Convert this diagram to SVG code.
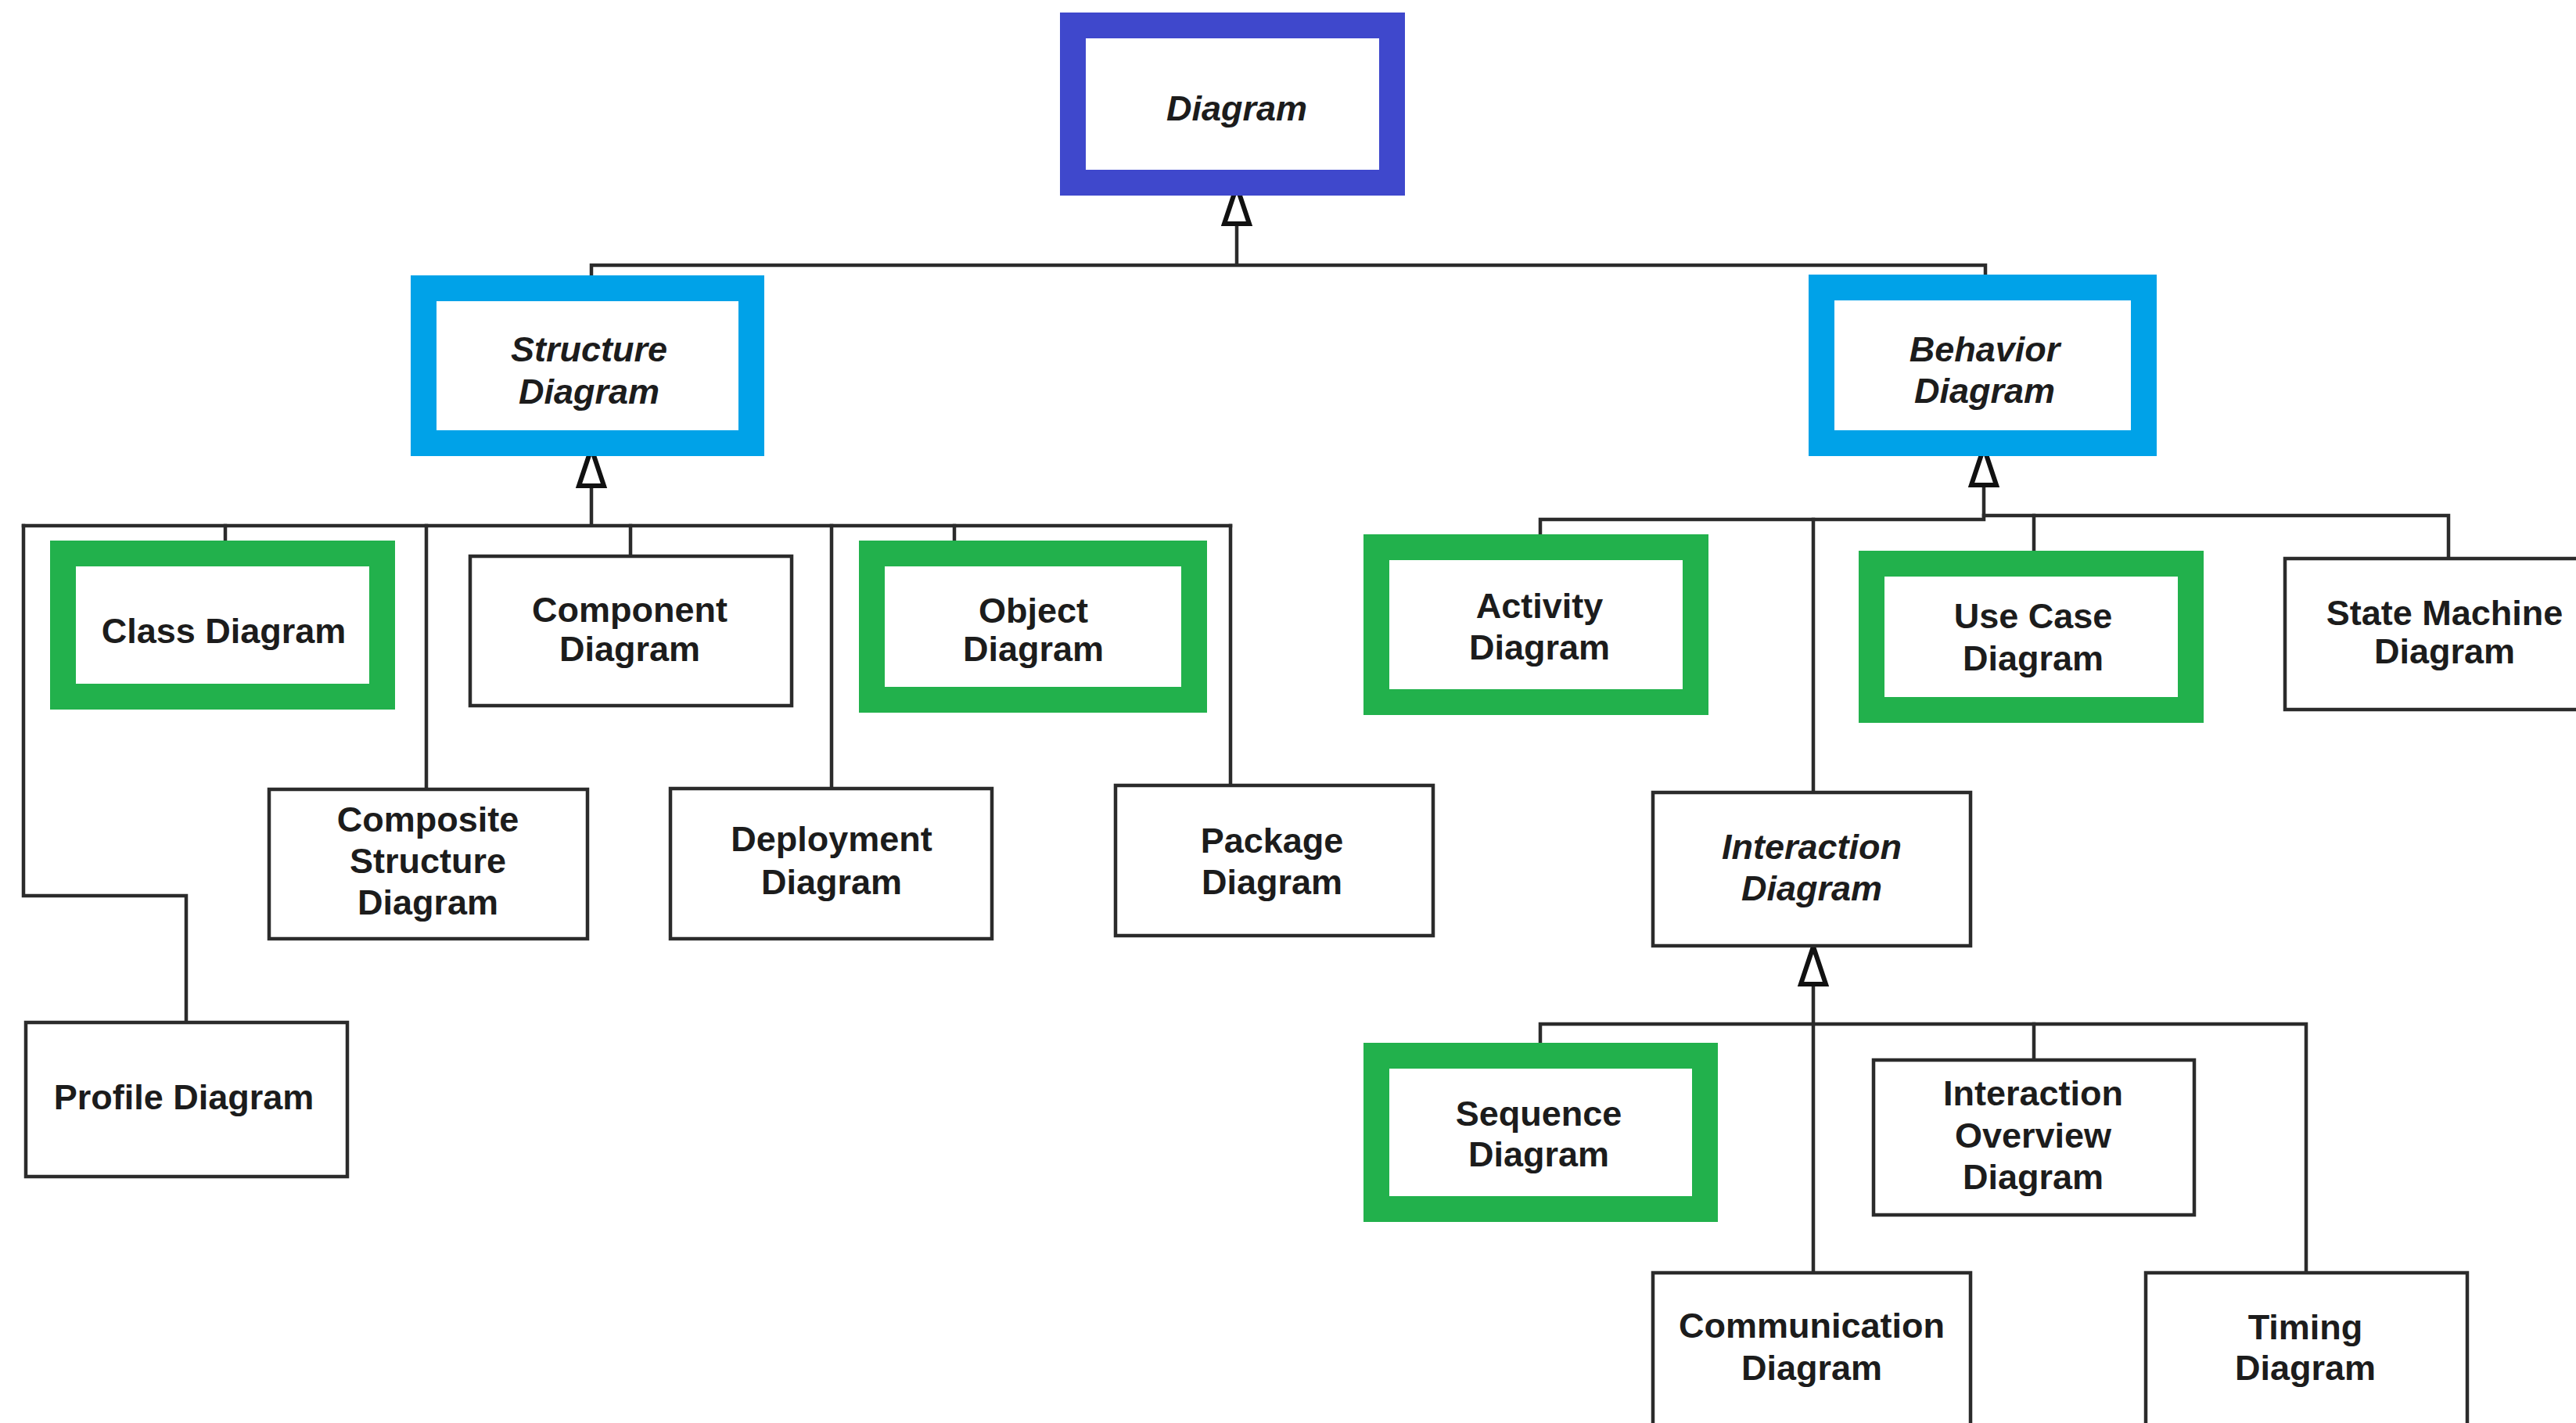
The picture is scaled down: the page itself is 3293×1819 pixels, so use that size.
<svg xmlns="http://www.w3.org/2000/svg" width="3293" height="1819" viewBox="0 0 3293 1819">
  <style>
    .hl { fill: #ffffff; stroke-width: 33; }
    .blue { stroke: #3f48cc; }
    .cyan { stroke: #00a2e8; }
    .green { stroke: #22b14c; }
    .plain { fill: #ffffff; stroke: #2b2b2b; stroke-width: 4.5; }
    .lbl { font-family: "Liberation Sans", Arial, sans-serif; font-size: 45px; font-weight: bold; fill: #1c1c1c; text-anchor: middle; }
    .abs { font-style: italic; }
    .wire { fill: none; stroke: #2b2b2b; stroke-width: 4.5; stroke-linecap: square; }
    .gen { fill: none; stroke: #2b2b2b; stroke-width: 4.5; marker-end: url(#hollow); }
  </style>
  <defs>
    <!-- hollow triangle for generalization ends; its tip tucks under the parent box -->
    <marker id="hollow" markerUnits="userSpaceOnUse" viewBox="-54 -22 58 44" refX="0" refY="0" markerWidth="58" markerHeight="44" orient="auto">
      <path d="M0,0 L-48,-16 L-48,16 Z" fill="#ffffff" stroke="#111111" stroke-width="6" stroke-linejoin="miter"/>
    </marker>
  </defs>
  <rect width="3293" height="1819" fill="#ffffff"/>

  <g id="connectors">
    <!-- generalization arrows -->
    <path class="gen" d="M1581,339 V238"/>
    <path class="gen" d="M756,672 V573"/>
    <path class="gen" d="M2536,662 V572"/>
    <path class="gen" d="M2318,1625 V1210"/>
    <!-- top level branch -->
    <path class="wire" d="M756,353 V339 H2538 V351"/>
    <!-- structure branch -->
    <path class="wire" d="M30,672 H1573"/>
    <path class="wire" d="M30,672 V1145 H238 V1305"/>
    <path class="wire" d="M288,672 V691"/>
    <path class="wire" d="M545,672 V1007"/>
    <path class="wire" d="M806,672 V709"/>
    <path class="wire" d="M1063,672 V1006"/>
    <path class="wire" d="M1220,672 V691"/>
    <path class="wire" d="M1573,672 V1002"/>
    <!-- behavior branch -->
    <path class="wire" d="M1969,683 V664 H2536"/>
    <path class="wire" d="M2536,659 H3130 V712"/>
    <path class="wire" d="M2318,664 V1011"/>
    <path class="wire" d="M2600,659 V704"/>
    <!-- interaction branch -->
    <path class="wire" d="M1969,1333 V1309 H2948 V1625"/>
    <path class="wire" d="M2600,1309 V1353"/>
  </g>

  <g id="diagram">
    <rect class="hl blue" x="1371.5" y="32.5" width="408" height="201"/>
    <text class="lbl abs" x="1581" y="154">Diagram</text>
  </g>

  <g id="structure-diagram">
    <rect class="hl cyan" x="541.5" y="368.5" width="419" height="198"/>
    <text class="lbl abs" x="753" y="462">Structure</text>
    <text class="lbl abs" x="753" y="516">Diagram</text>
  </g>

  <g id="behavior-diagram">
    <rect class="hl cyan" x="2328.5" y="367.5" width="412" height="199"/>
    <text class="lbl abs" x="2537" y="462">Behavior</text>
    <text class="lbl abs" x="2537" y="515">Diagram</text>
  </g>

  <g id="class-diagram">
    <rect class="hl green" x="80.5" y="707.5" width="408" height="183"/>
    <text class="lbl" x="286" y="822">Class Diagram</text>
  </g>

  <g id="component-diagram">
    <rect class="plain" x="601" y="711" width="411" height="191"/>
    <text class="lbl" x="805" y="795">Component</text>
    <text class="lbl" x="805" y="845">Diagram</text>
  </g>

  <g id="object-diagram">
    <rect class="hl green" x="1114.5" y="707.5" width="412" height="187"/>
    <text class="lbl" x="1321" y="796">Object</text>
    <text class="lbl" x="1321" y="845">Diagram</text>
  </g>

  <g id="composite-structure-diagram">
    <rect class="plain" x="344" y="1009" width="407" height="191"/>
    <text class="lbl" x="547" y="1063">Composite</text>
    <text class="lbl" x="547" y="1116">Structure</text>
    <text class="lbl" x="547" y="1169">Diagram</text>
  </g>

  <g id="deployment-diagram">
    <rect class="plain" x="857" y="1008" width="411" height="192"/>
    <text class="lbl" x="1063" y="1088">Deployment</text>
    <text class="lbl" x="1063" y="1143">Diagram</text>
  </g>

  <g id="package-diagram">
    <rect class="plain" x="1426" y="1004" width="406" height="192"/>
    <text class="lbl" x="1626" y="1090">Package</text>
    <text class="lbl" x="1626" y="1143">Diagram</text>
  </g>

  <g id="profile-diagram">
    <rect class="plain" x="33" y="1307" width="411" height="197"/>
    <text class="lbl" x="235" y="1418">Profile Diagram</text>
  </g>

  <g id="activity-diagram">
    <rect class="hl green" x="1759.5" y="699.5" width="408" height="198"/>
    <text class="lbl" x="1968" y="790">Activity</text>
    <text class="lbl" x="1968" y="843">Diagram</text>
  </g>

  <g id="use-case-diagram">
    <rect class="hl green" x="2392.5" y="720.5" width="408" height="187"/>
    <text class="lbl" x="2599" y="803">Use Case</text>
    <text class="lbl" x="2599" y="857">Diagram</text>
  </g>

  <g id="state-machine-diagram">
    <rect class="plain" x="2921" y="714" width="420" height="193"/>
    <text class="lbl" x="3125" y="799">State Machine</text>
    <text class="lbl" x="3125" y="848">Diagram</text>
  </g>

  <g id="interaction-diagram">
    <rect class="plain" x="2113" y="1013" width="406" height="196"/>
    <text class="lbl abs" x="2316" y="1098">Interaction</text>
    <text class="lbl abs" x="2316" y="1151">Diagram</text>
  </g>

  <g id="sequence-diagram">
    <rect class="hl green" x="1759.5" y="1349.5" width="420" height="196"/>
    <text class="lbl" x="1967" y="1439">Sequence</text>
    <text class="lbl" x="1967" y="1491">Diagram</text>
  </g>

  <g id="interaction-overview-diagram">
    <rect class="plain" x="2395" y="1355" width="410" height="198"/>
    <text class="lbl" x="2599" y="1413">Interaction</text>
    <text class="lbl" x="2599" y="1467">Overview</text>
    <text class="lbl" x="2599" y="1520">Diagram</text>
  </g>

  <g id="communication-diagram">
    <rect class="plain" x="2113" y="1627" width="406" height="300"/>
    <text class="lbl" x="2316" y="1710">Communication</text>
    <text class="lbl" x="2316" y="1764">Diagram</text>
  </g>

  <g id="timing-diagram">
    <rect class="plain" x="2743" y="1627" width="411" height="300"/>
    <text class="lbl" x="2947" y="1712">Timing</text>
    <text class="lbl" x="2947" y="1764">Diagram</text>
  </g>
</svg>
